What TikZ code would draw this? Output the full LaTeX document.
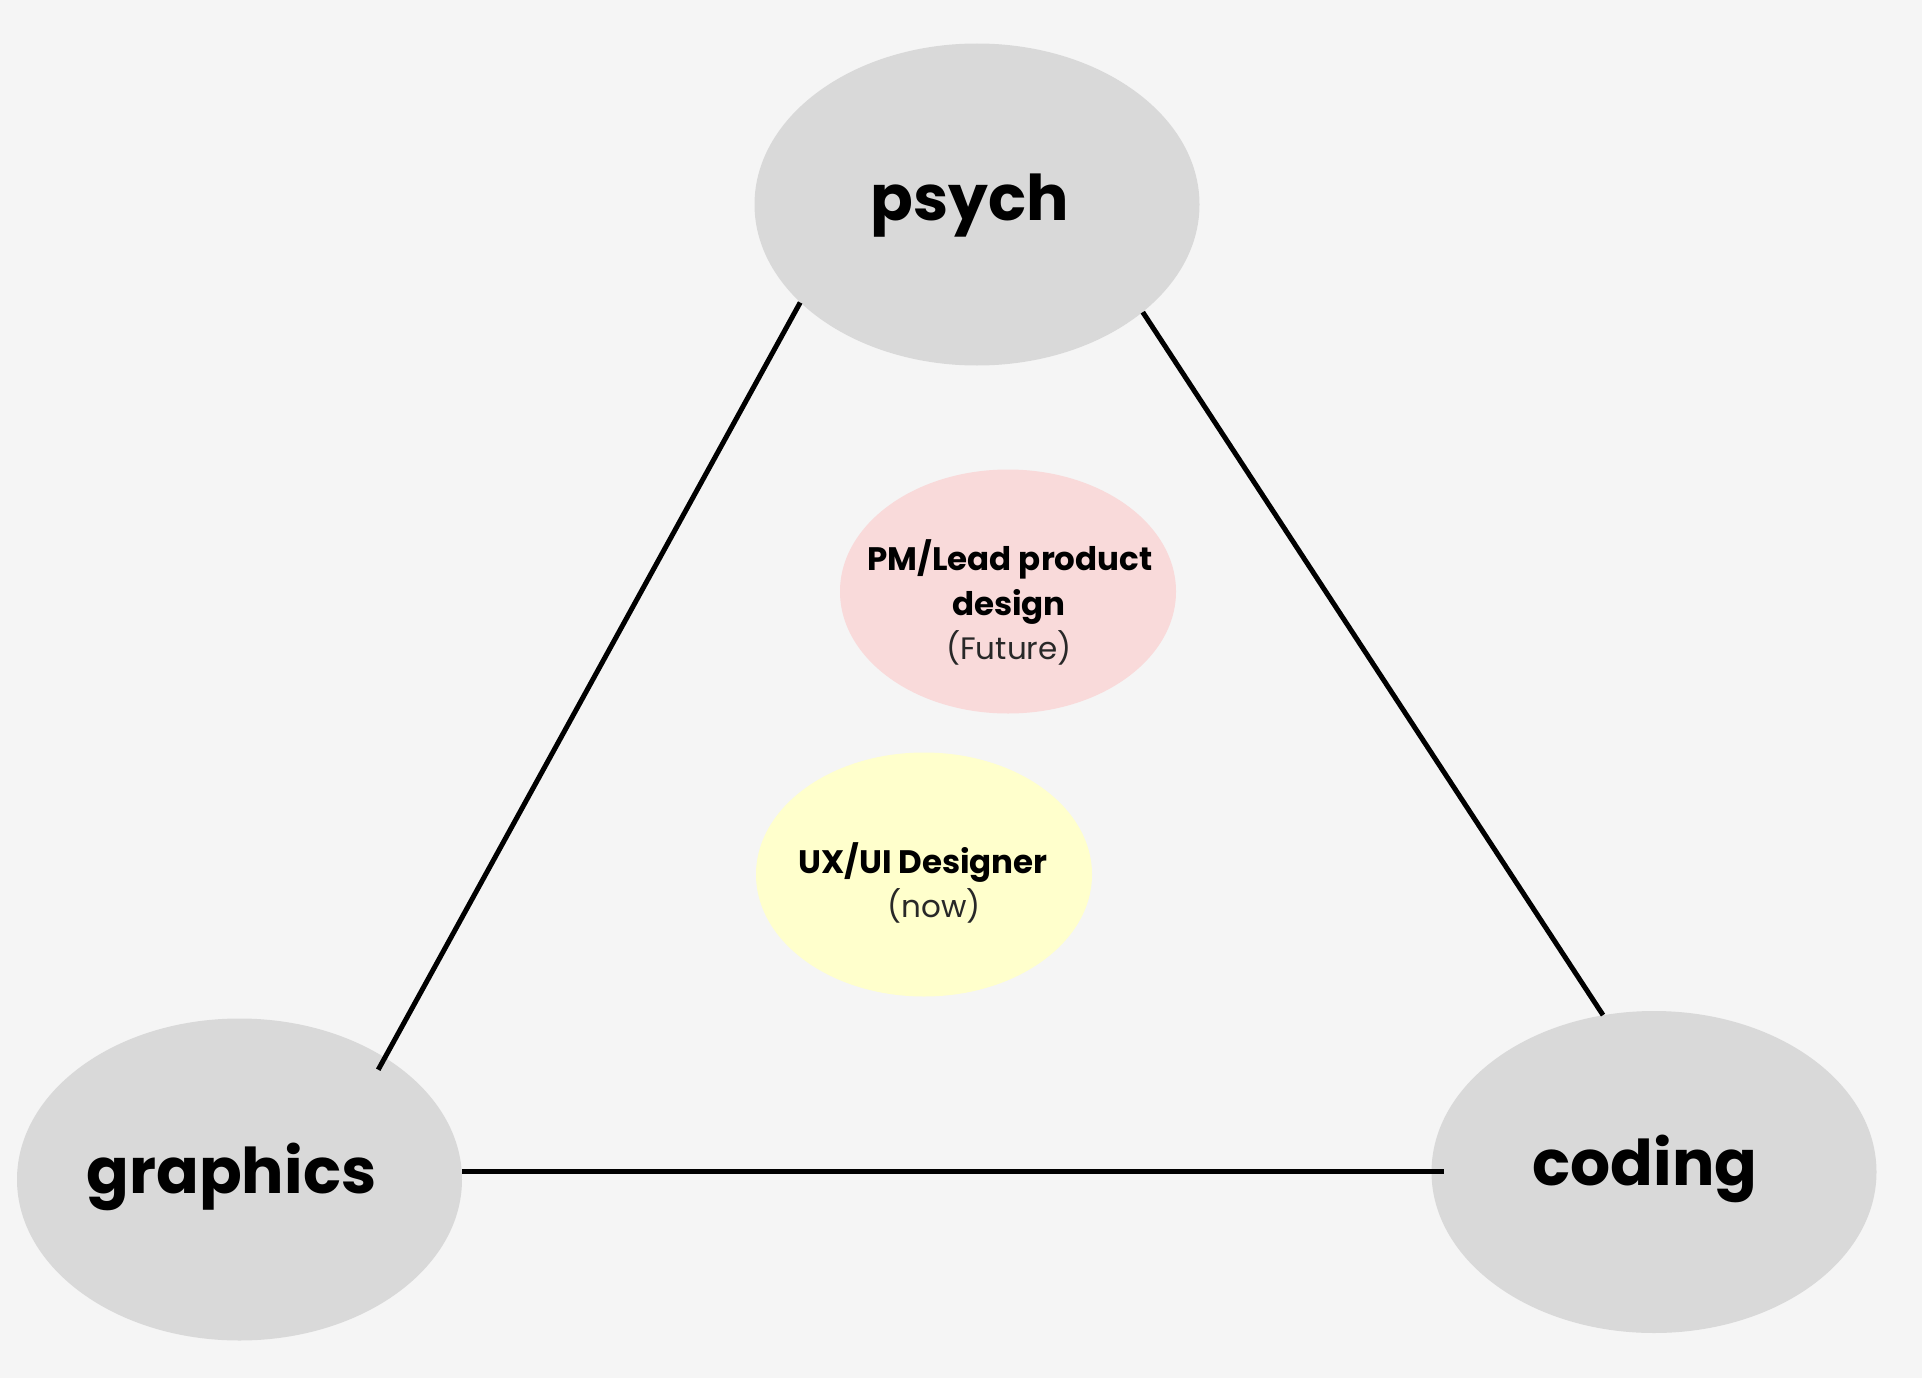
\documentclass[tikz,border=0pt]{standalone}
\usepackage{fontspec}
\setmainfont{Poppins}
\usetikzlibrary{shapes.geometric}
\definecolor{bgc}{RGB}{245,245,245}
\definecolor{grayell}{RGB}{217,217,217}
\definecolor{pinkell}{RGB}{249,218,218}
\definecolor{yellowell}{RGB}{255,255,204}
\definecolor{subtext}{RGB}{40,40,40}
\tikzset{
  bigell/.style={ellipse, fill=grayell, draw=none, inner sep=0pt, minimum width=445pt, minimum height=322pt},
  smallell/.style={ellipse, draw=none, inner sep=0pt, minimum width=336pt, minimum height=244pt},
  bigtext/.style={anchor=base, inner sep=0pt, font=\fontsize{63}{70}\selectfont\bfseries},
  midtext/.style={anchor=base, inner sep=0pt, font=\fontsize{32.5}{38}\selectfont\bfseries},
  subtxt/.style={anchor=base, inner sep=0pt, text=subtext, font=\fontsize{31}{36}\selectfont},
  conn/.style={line width=5pt, black}
}
\begin{document}
\begin{tikzpicture}[x=1pt,y=-1pt]
\fill[bgc] (0,0) rectangle (1922,1378);
\useasboundingbox (0,0) rectangle (1922,1378);
\node[bigell] (psych) at (977,204.5) {};
\node[bigell] (graphics) at (239.5,1179.5) {};
\node[bigell] (coding) at (1654,1172) {};
\node[smallell, fill=pinkell] (pm) at (1008,591.5) {};
\node[smallell, fill=yellowell] (ux) at (924,874.5) {};
\node[bigtext] (psychlbl) at (970,220) {psych};
\node[bigtext] (graphicslbl) at (231.5,1193) {graphics};
\node[bigtext] (codinglbl) at (1645,1185) {coding};
\node[midtext] (pmA) at (1010,570) {PM/Lead product};
\node[midtext] (pmB) at (1009,615) {design};
\node[subtxt] (pmC) at (1009,659) {(Future)};
\node[midtext] (uxA) at (923,873) {UX/UI Designer};
\node[subtxt] (uxB) at (934,917) {(now)};
\draw[conn, shorten >=-14pt] (psych.209.4) -- (graphics.40.8);
\draw[conn] (psych.-33.4) -- (coding.108.9);
\draw[conn, shorten >=-13pt] (graphics.2.6) -- (graphics.2.6 -| coding.west);
\end{tikzpicture}
\end{document}
